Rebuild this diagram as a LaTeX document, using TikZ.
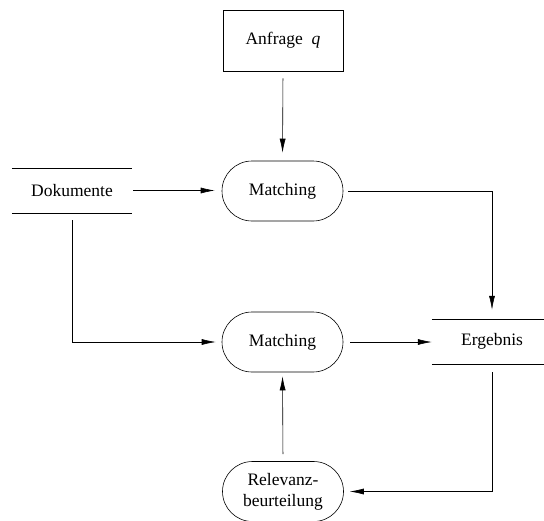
\documentclass[tikz,border=0pt]{standalone}
\usepackage{fontspec}
\setmainfont{Liberation Serif}
\usetikzlibrary{shapes.misc,arrows.meta}
\begin{document}
\begin{tikzpicture}[x=1pt,y=-1pt,
  every node/.style={font=\fontsize{17.5}{21}\selectfont, inner sep=0pt},
  proc/.style={draw, rounded rectangle, minimum width=121pt, minimum height=60pt, line width=0.6pt, align=center},
  store/.style={minimum width=120pt, minimum height=45pt},
  box/.style={draw, minimum width=120pt, minimum height=61pt, line width=0.6pt},
  conn/.style={line width=0.6pt, -{Latex[length=14pt,width=6pt]}}]
\useasboundingbox (0,0) rectangle (544,520);
\node[box] (anf) at (283,40.5) {Anfrage \ \textit{q}};
\node[proc] (m1) at (282.5,191) {Matching};
\node[proc] (m2) at (282.5,342) {Matching};
\node[proc, text width=100pt] (rel) at (283,491.5) {\centering Relevanz-\\beurteilung};
\node[store] (dok) at (72,190.5) {Dokumente};
\node[store] (erg) at (492,341.5) {Ergebnis};
\draw[line width=0.6pt] (dok.north west) -- (dok.north east) (dok.south west) -- (dok.south east);
\draw[line width=0.6pt] (erg.north west) -- (erg.north east) (erg.south west) -- (erg.south east);
\draw[conn, shorten <=7pt, shorten >=8pt] (anf.south) -- (m1.north);
\draw[conn, shorten <=1pt, shorten >=7pt] (dok.east) -- (dok.east -| m1.west);
\draw[conn, shorten <=5pt, shorten >=9pt] (m1.east) -| (erg.north);
\draw[conn, shorten <=7pt, shorten >=6pt] (dok.south) |- (m2.west);
\draw[conn, shorten <=7pt, shorten >=0pt] (m2.east) -- (m2.east -| erg.west);
\draw[conn, shorten <=7pt, shorten >=4pt] (rel.north) -- (m2.south);
\draw[conn, shorten <=8pt, shorten >=6pt] (erg.south) |- (rel.east);
\end{tikzpicture}
\end{document}
